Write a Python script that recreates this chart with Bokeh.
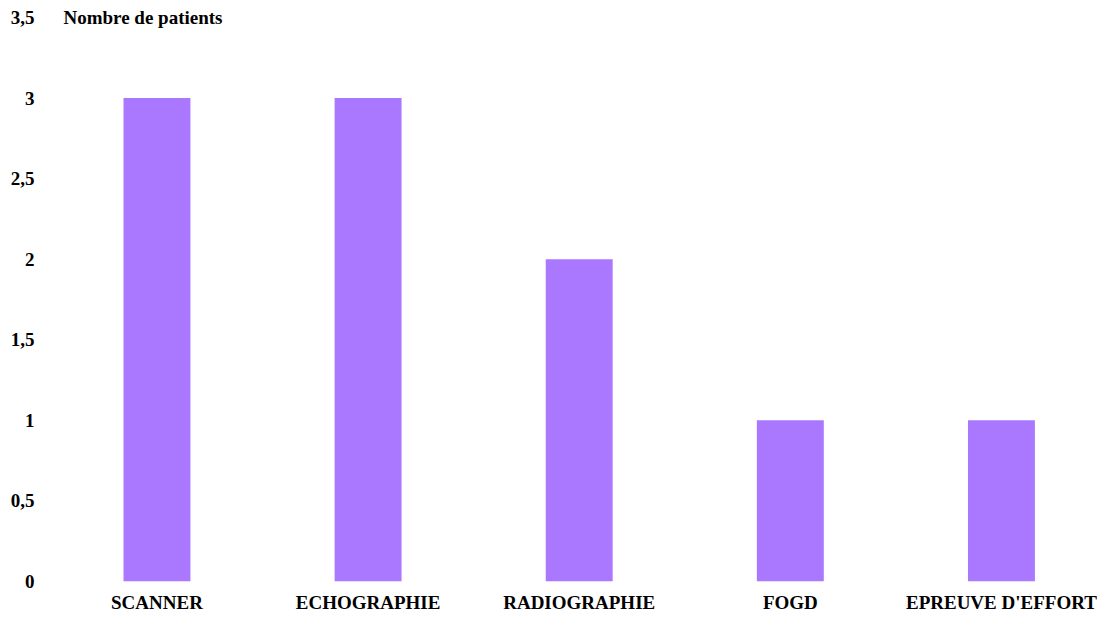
from bokeh.plotting import figure
from bokeh.models import Range1d, FixedTicker, CustomJSTickFormatter, Label
from bokeh.embed import file_html
from bokeh.resources import INLINE

categories = ["SCANNER", "ECHOGRAPHIE", "RADIOGRAPHIE", "FOGD", "EPREUVE D'EFFORT"]
values = [3, 3, 2, 1, 1]
y_ticks = [0, 0.5, 1, 1.5, 2, 2.5, 3, 3.5]
y_title = "Nombre de patients"

FONT = "Liberation Serif"
FS = "19px"
BAR = "#AA77FF"

xs = list(range(len(categories)))

p = figure(width=1097, height=615, output_backend="svg", toolbar_location=None,
           x_range=Range1d(-0.509, 4.455), y_range=Range1d(0, 3.5808),
           min_border_left=49, min_border_right=0, min_border_top=4, min_border_bottom=33)
p.outline_line_color = None
p.background_fill_color = "white"
p.border_fill_color = "white"
p.xgrid.visible = False
p.ygrid.visible = False

p.vbar(x=xs, top=values, width=0.317, fill_color=BAR, line_color=None)

xa = p.xaxis[0]
xa.ticker = FixedTicker(ticks=xs)
xa.formatter = CustomJSTickFormatter(args=dict(cats=categories), code="return cats[Math.round(tick)];")
xa.axis_line_color = None
xa.major_tick_line_color = None
xa.minor_tick_line_color = None
xa.major_tick_in = 0
xa.major_tick_out = 0
xa.minor_tick_in = 0
xa.minor_tick_out = 0
xa.major_label_standoff = 10
xa.major_label_text_font = FONT
xa.major_label_text_font_size = FS
xa.major_label_text_font_style = "bold"
xa.major_label_text_color = "black"

ya = p.yaxis[0]
ya.ticker = FixedTicker(ticks=y_ticks)
ya.formatter = CustomJSTickFormatter(code="return tick.toString().replace('.', ',');")
ya.axis_line_color = None
ya.major_tick_line_color = None
ya.minor_tick_line_color = None
ya.major_tick_in = 0
ya.major_tick_out = 0
ya.minor_tick_in = 0
ya.minor_tick_out = 0
ya.major_label_standoff = 15
ya.major_label_text_font = FONT
ya.major_label_text_font_size = FS
ya.major_label_text_font_style = "bold"
ya.major_label_text_color = "black"

p.add_layout(Label(x=-0.443, y=3.5, text=y_title, text_align="left", text_baseline="middle",
                   text_font=FONT, text_font_size=FS, text_font_style="bold", text_color="black"))

open("out.html", "w").write(file_html(p, INLINE))
